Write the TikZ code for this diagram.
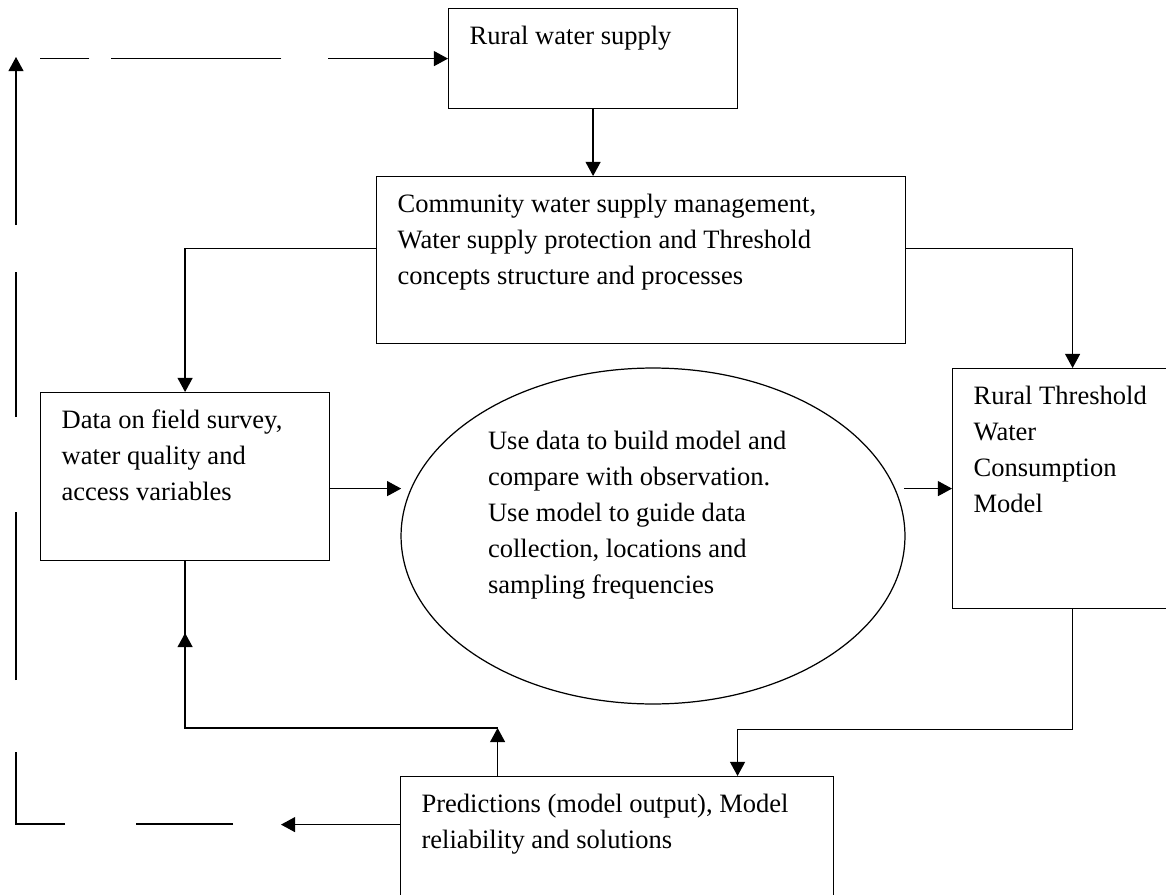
\documentclass[tikz,border=0pt]{standalone}
\usepackage{fontspec}
\setmainfont{Liberation Serif}
\usetikzlibrary{shapes.geometric,arrows.meta}

\newcommand{\boxtext}[3]{\parbox[c][#2][t]{#1}{\raggedright\rule{0pt}{0.72cm}#3}}

\begin{document}
\begin{tikzpicture}[x=0.02cm, y=-0.02cm, line width=0.7pt,
    font=\fontsize{15.1pt}{20.5pt}\selectfont,
    >={Triangle[length=8pt,width=8.5pt]},
    box/.style={draw, anchor=north west, inner xsep=0.42cm, inner ysep=0pt},
    feedback/.style={dash pattern=on 1.94cm off 1.42cm on 2.42cm off 1.44cm on 3.36cm off 1.9cm on 2.9cm off 0.94cm on 4cm off 1cm},
    topdash/.style={dash pattern=on 2.12cm off 0.94cm on 3.4cm off 0.44cm on 1cm off 1cm}]
        \clip (0,0) rectangle (1166,895);

        % Nodes for supply and management
        \node[box] (rws) at (448,8) {\boxtext{4.94cm}{2cm}{Rural water supply}};
        \node[box] (cws) at (376,176) {\boxtext{9.74cm}{3.34cm}{Community water supply management,\\ Water supply protection and Threshold\\ concepts structure and processes}};

        % Nodes for data and model
        \node[box] (data) at (40,392) {\boxtext{4.94cm}{3.36cm}{Data on field survey,\\ water quality and\\ access variables}};
        \node[draw, ellipse, inner xsep=0pt, inner ysep=-0.3cm, minimum width=10.08cm, minimum height=6.72cm] (ell) at (653,536) {\boxtext{6.6cm}{4.92cm}{Use data to build model and\\ compare with observation.\\ Use model to guide data\\ collection, locations and\\ sampling frequencies}};
        \node[box] (rtm) at (952,368) {\boxtext{3.96cm}{4.8cm}{Rural Threshold\\ Water\\ Consumption\\ Model}};

        % Node for output
        \node[box] (pred) at (400,776) {\boxtext{7.82cm}{3.48cm}{Predictions (model output), Model\\ reliability and solutions}};

        \draw[->] (rws.south) -- (rws.south |- cws.north);
        \draw[->] ([yshift=0.23cm]cws.west) -| (data.north);
        \draw[->] ([yshift=0.23cm]cws.east) -| (rtm.north);

        \draw[->] ([yshift=-0.24cm]data.east) -- ++(71,0);
        \draw[<-] (rtm.west) -- ++(-48,0);

        \draw[->] (rtm.south) -- ++(0,120) -| ([xshift=2.41cm]pred.north);

        % Return edges
        \draw[->] ([xshift=-2.39cm]pred.north) -- ++(0,-48) coordinate (fb);
        \draw (fb) -| (data.south);
        \draw[->] (fb -| data.south) -- ++(0,-95);
        \draw[->] ([yshift=0.78cm]pred.west) -- ++(-119,0);

        % Dashed feedback loop
        \coordinate (fbStart) at (233,824);
        \coordinate (fbCorner) at (16,824);
        \coordinate (fbEnd) at (16,57);
        \draw[feedback, ->] (fbStart) -- (fbCorner) -- (fbEnd);
        \draw[topdash, <-] (rws.west) -- ++(-408,0);

\end{tikzpicture}
\end{document}
